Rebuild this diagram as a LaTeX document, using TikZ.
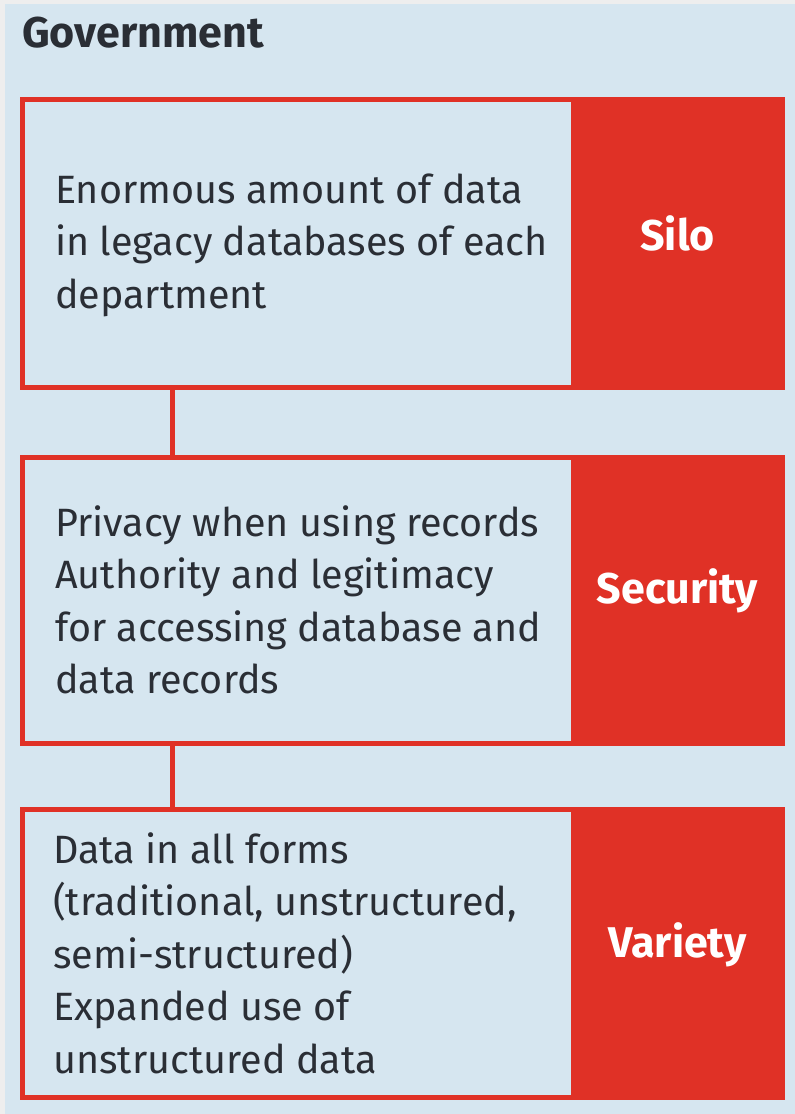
\documentclass[tikz,border=0pt]{standalone}
\usepackage{fontspec}
\setmainfont{Fira Sans}
\definecolor{bgblue}{RGB}{214,230,240}
\definecolor{edgegray}{RGB}{238,238,238}
\definecolor{boxred}{RGB}{224,49,38}
\definecolor{txtdark}{RGB}{42,46,53}
\tikzset{
  leftbox/.style={draw=boxred, line width=5pt, fill=bgblue, minimum width=551pt, inner sep=0pt, outer sep=0pt, anchor=north west},
  redbox/.style={draw=boxred, line width=5pt, fill=boxred, minimum width=209pt, inner sep=0pt, outer sep=0pt, anchor=north west},
  redlabel/.style={inner sep=0pt, text=white, font=\fontsize{43}{48}\selectfont\bfseries},
  bodytxt/.style={anchor=west, align=left, inner sep=0pt, text=txtdark, font=\fontsize{39.5}{52.5}\selectfont},
  conn/.style={draw=boxred, line width=5pt}
}
\begin{document}
\begin{tikzpicture}[x=1pt,y=-1pt]
\useasboundingbox (0,0) rectangle (795,1114);
\fill[edgegray] (0,0) rectangle (795,1114);
\fill[bgblue] (5,4) rectangle (795,1114);
\node[anchor=base west, inner sep=0pt, text=txtdark, font=\fontsize{43}{48}\selectfont\bfseries] (title) at (22,47) {Government};

\node[leftbox, minimum height=288pt] (b1) at (22,99) {};
\node[redbox, minimum height=288pt] (r1) at (b1.north east) {};
\node[leftbox, minimum height=286pt] (b2) at (22,457) {};
\node[redbox, minimum height=286pt] (r2) at (b2.north east) {};
\node[leftbox, minimum height=288pt] (b3) at (22,809) {};
\node[redbox, minimum height=288pt] (r3) at (b3.north east) {};

\node[redlabel] (l1) at ([yshift=10pt]r1.center) {Silo};
\node[redlabel] (l2) at ([yshift=9pt]r2.center) {Security};
\node[redlabel] (l3) at ([yshift=8pt]r3.center) {Variety};

\coordinate (cx) at (172,0);
\draw[conn] (b1.south -| cx) -- (b2.north -| cx);
\draw[conn] (b2.south -| cx) -- (b3.north -| cx);

\node[bodytxt] (t1) at ([xshift=33pt,yshift=-2pt]b1.west) {Enormous amount of data\\in legacy databases of each\\department};
\node[bodytxt] (t2) at ([xshift=33pt]b2.west) {Privacy when using records\\Authority and legitimacy\\for accessing database and\\data records};
\node[bodytxt] (t3) at ([xshift=31pt]b3.west) {Data in all forms\\(traditional, unstructured,\\semi-structured)\\Expanded use of\\unstructured data};
\end{tikzpicture}
\end{document}
